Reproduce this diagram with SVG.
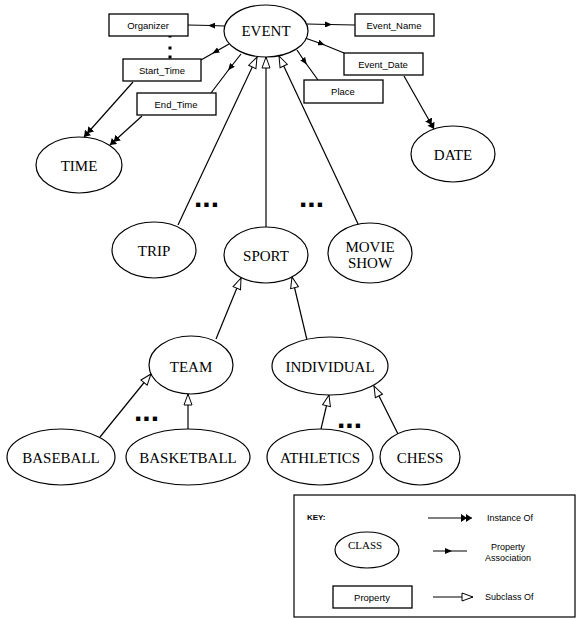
<svg xmlns="http://www.w3.org/2000/svg" width="577" height="619" viewBox="0 0 577 619">
<style>
.n{fill:#fff;stroke:#000;stroke-width:1.2}
.b{fill:#fff;stroke:#000;stroke-width:1.3}
.t{font-family:"Liberation Serif","Times New Roman",serif;font-size:15px;text-anchor:middle;fill:#000}
.s{font-family:"Liberation Sans",Arial,sans-serif;font-size:9.5px;text-anchor:middle;fill:#000}
.k{font-family:"Liberation Sans",Arial,sans-serif;font-size:9px;fill:#000}
.e{fill:none;stroke:#000;stroke-width:1.2}
.pa{marker-mid:url(#prop)}
.io{marker-end:url(#inst)}
.sc{marker-end:url(#sub)}
.dots{font-family:"Liberation Sans",Arial,sans-serif;font-size:30px;font-weight:bold;fill:#000}
</style>
<defs>
<marker id="prop" markerUnits="userSpaceOnUse" viewBox="0 0 7 6" markerWidth="7" markerHeight="6" refX="4" refY="3" orient="auto"><path d="M0,0 L7,3 L0,6 z" fill="#000"/></marker>
<marker id="inst" markerUnits="userSpaceOnUse" viewBox="0 0 11 8" markerWidth="11" markerHeight="8" refX="11" refY="4" orient="auto"><path d="M0,0 L6,4 L0,8 z M5,0 L11,4 L5,8 z" fill="#000"/></marker>
<marker id="sub" markerUnits="userSpaceOnUse" viewBox="0 0 13 10" markerWidth="13" markerHeight="10" refX="12" refY="5" orient="auto"><path d="M1,1 L12,5 L1,9 z" fill="#fff" stroke="#000" stroke-width="1"/></marker>
</defs>

<g id="connectors">
<path class="e pa" d="M224,26 L211,25.5 L188,25"/>
<path class="e pa" d="M229,44 L215,52 L201,60"/>
<path class="e pa" d="M241,54 L230,68 L211,93"/>
<path class="e pa" d="M307,24 L329,24.5 L355,25"/>
<path class="e pa" d="M305,38 L322,44 L344,53"/>
<path class="e pa" d="M297,50 L305,62 L318,80"/>
<path class="e io" d="M133,82 L84,137"/>
<path class="e io" d="M142,116 L110,145"/>
<path class="e io" d="M404,76 L434,129"/>
<path class="e sc" d="M178,225 L257,57"/>
<path class="e sc" d="M266,227 L266,57"/>
<path class="e sc" d="M359,226 L279,56"/>
<path class="e sc" d="M216,339 L241,278"/>
<path class="e sc" d="M307,340 L292,277"/>
<path class="e sc" d="M100,437 L151,374"/>
<path class="e sc" d="M188,429 L188,394"/>
<path class="e sc" d="M321,429 L329,395"/>
<path class="e sc" d="M398,434 L374,386"/>
<rect x="168.5" y="34.5" width="3" height="3" fill="#000"/>
<rect x="168.5" y="46.5" width="3" height="3" fill="#000"/>
<rect x="168.5" y="55.5" width="3" height="3" fill="#000"/>
</g>

<g id="dots">
<text class="dots" x="194" y="207">...</text>
<text class="dots" x="299" y="207">...</text>
<text class="dots" x="134" y="421">...</text>
<text class="dots" x="337" y="428">...</text>
</g>

<g id="event"><ellipse class="n" cx="266" cy="31" rx="42" ry="26"/><text class="t" x="266" y="36">EVENT</text></g>
<g id="organizer"><rect class="b" x="109" y="14" width="79" height="22"/><text class="s" x="148" y="28.5">Organizer</text></g>
<g id="start_time"><rect class="b" x="123" y="59" width="78" height="22"/><text class="s" x="162" y="73.5">Start_Time</text></g>
<g id="end_time"><rect class="b" x="137" y="93" width="79" height="22"/><text class="s" x="176" y="107.5">End_Time</text></g>
<g id="event_name"><rect class="b" x="355" y="14" width="79" height="22"/><text class="s" x="394" y="28.5">Event_Name</text></g>
<g id="event_date"><rect class="b" x="344" y="53" width="79" height="22"/><text class="s" x="383" y="67.5">Event_Date</text></g>
<g id="place"><rect class="b" x="304" y="80" width="79" height="23"/><text class="s" x="343" y="95">Place</text></g>
<g id="time"><ellipse class="n" cx="79" cy="165" rx="43" ry="28"/><text class="t" x="79" y="170.5">TIME</text></g>
<g id="date"><ellipse class="n" cx="453" cy="154" rx="42" ry="28"/><text class="t" x="453" y="159.5">DATE</text></g>
<g id="trip"><ellipse class="n" cx="154" cy="250" rx="42" ry="28"/><text class="t" x="154" y="255.5">TRIP</text></g>
<g id="sport"><ellipse class="n" cx="266" cy="255" rx="42" ry="28"/><text class="t" x="266" y="260.5">SPORT</text></g>
<g id="movie_show"><ellipse class="n" cx="370" cy="253" rx="42" ry="30"/><text class="t" x="370" y="252">MOVIE</text><text class="t" x="370" y="268">SHOW</text></g>
<g id="team"><ellipse class="n" cx="191" cy="365" rx="42" ry="29"/><text class="t" x="191" y="372">TEAM</text></g>
<g id="individual"><ellipse class="n" cx="330" cy="366" rx="58" ry="29"/><text class="t" x="330" y="372">INDIVIDUAL</text></g>
<g id="baseball"><ellipse class="n" cx="61" cy="457" rx="54" ry="28"/><text class="t" x="61" y="462.5">BASEBALL</text></g>
<g id="basketball"><ellipse class="n" cx="188" cy="457" rx="62" ry="28"/><text class="t" x="188" y="462.5">BASKETBALL</text></g>
<g id="athletics"><ellipse class="n" cx="320" cy="457" rx="53" ry="28"/><text class="t" x="320" y="462.5">ATHLETICS</text></g>
<g id="chess"><ellipse class="n" cx="420" cy="457" rx="40" ry="28"/><text class="t" x="420" y="462.5">CHESS</text></g>

<g id="key">
<rect x="294" y="495" width="281" height="122" fill="none" stroke="#000" stroke-width="1.2"/>
<text class="k" x="307" y="520" style="font-weight:bold;font-size:8px">KEY:</text>
<path class="e io" d="M428,518 L472,518"/>
<text class="k" x="487" y="521">Instance Of</text>
<ellipse class="n" cx="367" cy="550" rx="32" ry="18"/>
<text class="t" x="365" y="549" style="font-size:11px">CLASS</text>
<path class="e pa" d="M433,551 L449,551 L467,551"/>
<text class="k" x="508" y="550" text-anchor="middle">Property</text>
<text class="k" x="508" y="561" text-anchor="middle">Association</text>
<rect class="b" x="333" y="586" width="79" height="22"/>
<text class="s" x="372" y="600.5">Property</text>
<path class="e sc" d="M433,597 L473,597"/>
<text class="k" x="485" y="600">Subclass Of</text>
</g>
</svg>
